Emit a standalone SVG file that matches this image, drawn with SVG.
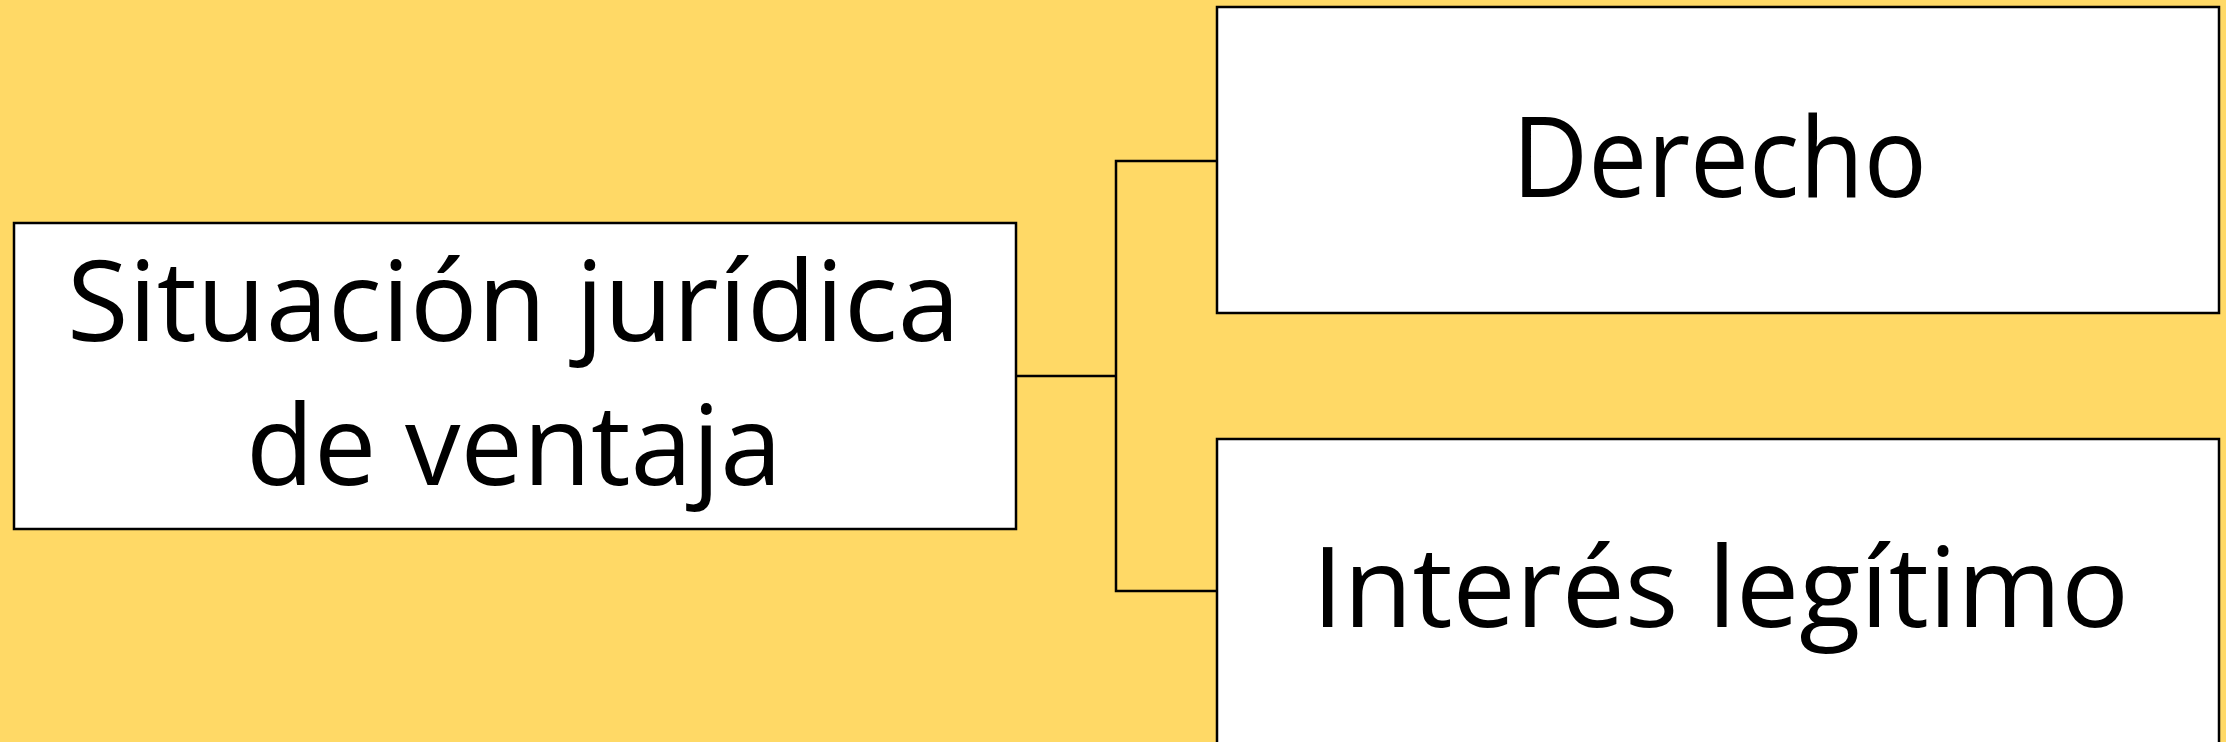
<svg xmlns="http://www.w3.org/2000/svg" width="2226" height="742" viewBox="0 0 2226 742">
  <style>
    .box { fill: #FFFFFF; stroke: #000000; stroke-width: 2.5; }
    .conn { fill: none; stroke: #000000; stroke-width: 2.5; }
    .lbl { font-family: "Open Sans", "Liberation Sans", sans-serif; font-size: 112px; fill: #000000; }
  </style>
  <rect x="0" y="0" width="2226" height="742" fill="#FFD966"/>
  <g id="connectors">
    <polyline class="conn" points="1016,376 1116,376"/>
    <polyline class="conn" points="1217,161 1116,161 1116,591 1217,591"/>
  </g>
  <g id="node-situacion">
    <rect class="box" x="14" y="223" width="1002" height="306"/>
    <text class="lbl" x="67" y="341" textLength="893" lengthAdjust="spacingAndGlyphs">Situación jurídica</text>
    <text class="lbl" x="246" y="485" textLength="536" lengthAdjust="spacingAndGlyphs">de ventaja</text>
  </g>
  <g id="node-derecho">
    <rect class="box" x="1217" y="7" width="1002" height="306"/>
    <text class="lbl" x="1512" y="197" textLength="415" lengthAdjust="spacingAndGlyphs">Derecho</text>
  </g>
  <g id="node-interes">
    <rect class="box" x="1217" y="439" width="1002" height="306"/>
    <text class="lbl" x="1312" y="627" textLength="817" lengthAdjust="spacingAndGlyphs">Interés legítimo</text>
  </g>
</svg>
